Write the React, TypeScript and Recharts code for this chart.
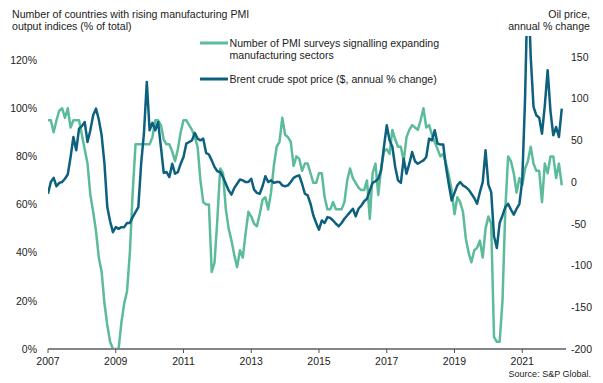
import { LineChart, Line, XAxis, YAxis } from 'recharts'

const FIRST_YEAR = 2007
const yearTicks = [0, 24, 48, 72, 96, 120, 144, 168]
const pmiTicks = [0, 20, 40, 60, 80, 100, 120]
const oilTicks = [-200, -150, -100, -50, 0, 50, 100, 150]

// % of PMI surveys signalling expanding manufacturing, monthly Jan 2007 - Mar 2022
const pmiExpanding = [
  95, 95, 90, 95, 99, 100, 96, 100, 92, 95, 95, 95, // 2007
  89, 83, 77, 64, 57, 49, 38, 32, 19, 10, 3, 0, // 2008
  0, 0, 11, 19, 24, 40, 65, 85, 85, 85, 85, 85, // 2009
  85, 88, 95, 95, 93, 87, 85, 85, 82, 78, 83, 90, // 2010
  95, 95, 93, 91, 88, 84, 70, 61, 60, 60, 32, 36, // 2011
  54, 75, 73, 58, 50, 45, 39, 34, 41, 38, 48, 57, // 2012
  55, 52, 51, 56, 62, 63, 58, 65, 76, 84, 86, 96, // 2013
  89, 88, 86, 76, 80, 79, 74, 77, 77, 73, 69, 69, // 2014
  73, 73, 63, 58, 58, 61, 58, 58, 58, 61, 70, 75, // 2015
  71, 69, 67, 66, 66, 70, 54, 73, 77, 64, 75, 82, // 2016
  83, 81, 91, 87, 84, 84, 78, 88, 91, 93, 92, 91, // 2017
  95, 100, 92, 93, 89, 86, 83, 80, 81, 77, 72, 66, // 2018
  56, 63, 61, 57, 46, 40, 36, 41, 42, 45, 38, 50, // 2019
  55, 52, 5, 3, 3, 20, 58, 80, 78, 73, 65, 71, // 2020
  68, 75, 78, 84, 77, 74, 74, 61, 77, 73, 80, 80, // 2021
  71, 77, 68, // 2022
]

// Brent crude spot price, annual % change
const brentChange = [
  -14, 0, 5, -5, -1, 0, 4, 9, 30, 54, 38, 64, // 2007
  67, 72, 48, 62, 80, 88, 75, 56, 22, -30, -47, -60, // 2008
  -54, -56, -54, -54, -49, -49, -42, -36, -30, 22, 59, 120, // 2009
  62, 71, 62, 72, 42, 11, 12, 6, 22, 10, 12, 22, // 2010
  30, 46, 48, 50, 59, 52, 50, 52, 35, 33, 26, 18, // 2011
  13, 12, 6, -2, -10, -15, -7, -2, 3, 2, 0, 0, // 2012
  4, -9, -13, -14, -5, 7, 0, 2, -1, 0, 0, -4, // 2013
  -5, -4, 0, 5, 7, 8, -2, -14, -16, -26, -40, -49, // 2014
  -57, -46, -49, -42, -43, -46, -50, -53, -49, -44, -40, -36, // 2015
  -32, -41, -32, -28, -23, -20, -10, -1, 1, 4, 14, 42, // 2016
  68, 50, 42, 18, 2, -1, 28, 10, 22, 36, 25, 22, // 2017
  24, 26, 30, 52, 50, 62, 46, 45, 45, 18, -3, -22, // 2018
  -13, -4, 0, -4, -6, -9, -14, -19, -26, -12, 0, 38, // 2019
  -3, -12, -65, -79, -49, -40, -30, -26, -33, -39, -32, -26, // 2020
  2, 100, 250, 150, 90, 80, 77, 58, 92, 134, 85, 56, // 2021
  66, 54, 88, // 2022
]

const data = pmiExpanding.map((v, i) => ({ idx: i, pmi: v, brent: brentChange[i] }))

const GREEN = '#5bbb9b'
const TEAL = '#0d617e'
const FONT = "'Liberation Sans', Arial, sans-serif"
const TEXT = '#222'

export default function App() {
  return (
    <div style={{ position: 'absolute', left: 0, top: 0, width: 603, height: 383, background: '#fff', fontFamily: FONT }}>
      <LineChart width={603} height={383} data={data} margin={{ top: 36, right: 0, bottom: 0, left: 0 }}>
        <XAxis
          dataKey="idx"
          type="number"
          domain={[0, 183.5]}
          allowDataOverflow
          ticks={yearTicks}
          interval={0}
          tickFormatter={(v: number) => String(FIRST_YEAR + v / 12)}
          height={34}
          axisLine={{ stroke: '#858585', strokeWidth: 2 }}
          tickLine={{ stroke: '#555' }}
          tickSize={4}
          tickMargin={5}
          tick={{ fill: TEXT, fontSize: 10.5, fontFamily: FONT }}
        />
        <YAxis
          yAxisId="left"
          domain={[0, 130]}
          allowDataOverflow
          ticks={pmiTicks}
          interval={0}
          tickFormatter={(v: number) => `${v}%`}
          width={48}
          axisLine={false}
          tickLine={false}
          tickSize={0}
          tickMargin={11}
          tick={{ fill: TEXT, fontSize: 10.5, fontFamily: FONT }}
        />
        <YAxis
          yAxisId="right"
          orientation="right"
          domain={[-200, 175]}
          allowDataOverflow
          ticks={oilTicks}
          interval={0}
          width={37}
          axisLine={false}
          tickLine={false}
          tickSize={0}
          tickMargin={5}
          tick={{ fill: TEXT, fontSize: 10.5, fontFamily: FONT, textAnchor: 'start' }}
        />
        <Line
          yAxisId="left"
          type="linear"
          dataKey="pmi"
          stroke={GREEN}
          strokeWidth={2.5}
          strokeLinejoin="round"
          dot={false}
          isAnimationActive={false}
        />
        <Line
          yAxisId="right"
          type="linear"
          dataKey="brent"
          stroke={TEAL}
          strokeWidth={2.5}
          strokeLinejoin="round"
          dot={false}
          isAnimationActive={false}
        />
      </LineChart>
      <svg width={603} height={383} style={{ position: 'absolute', left: 0, top: 0, pointerEvents: 'none' }}>
        <g fontFamily={FONT} fontSize={10.6} fill={TEXT}>
          <text x={12} y={18}>Number of countries with rising manufacturing PMI</text>
          <text x={12} y={30}>output indices (% of total)</text>
          <text x={590} y={18} textAnchor="end">Oil price,</text>
          <text x={590} y={29.5} textAnchor="end">annual % change</text>
          <line x1={200} x2={228} y1={43} y2={43} stroke={GREEN} strokeWidth={3} />
          <text x={229.5} y={47}>Number of PMI surveys signalling expanding</text>
          <text x={229.5} y={59}>manufacturing sectors</text>
          <line x1={200} x2={228} y1={79} y2={79} stroke={TEAL} strokeWidth={3} />
          <text x={229.5} y={83}>Brent crude spot price ($, annual % change)</text>
          <text x={591} y={377} textAnchor="end" fontSize={9}>Source: S&amp;P Global.</text>
        </g>
      </svg>
    </div>
  )
}
